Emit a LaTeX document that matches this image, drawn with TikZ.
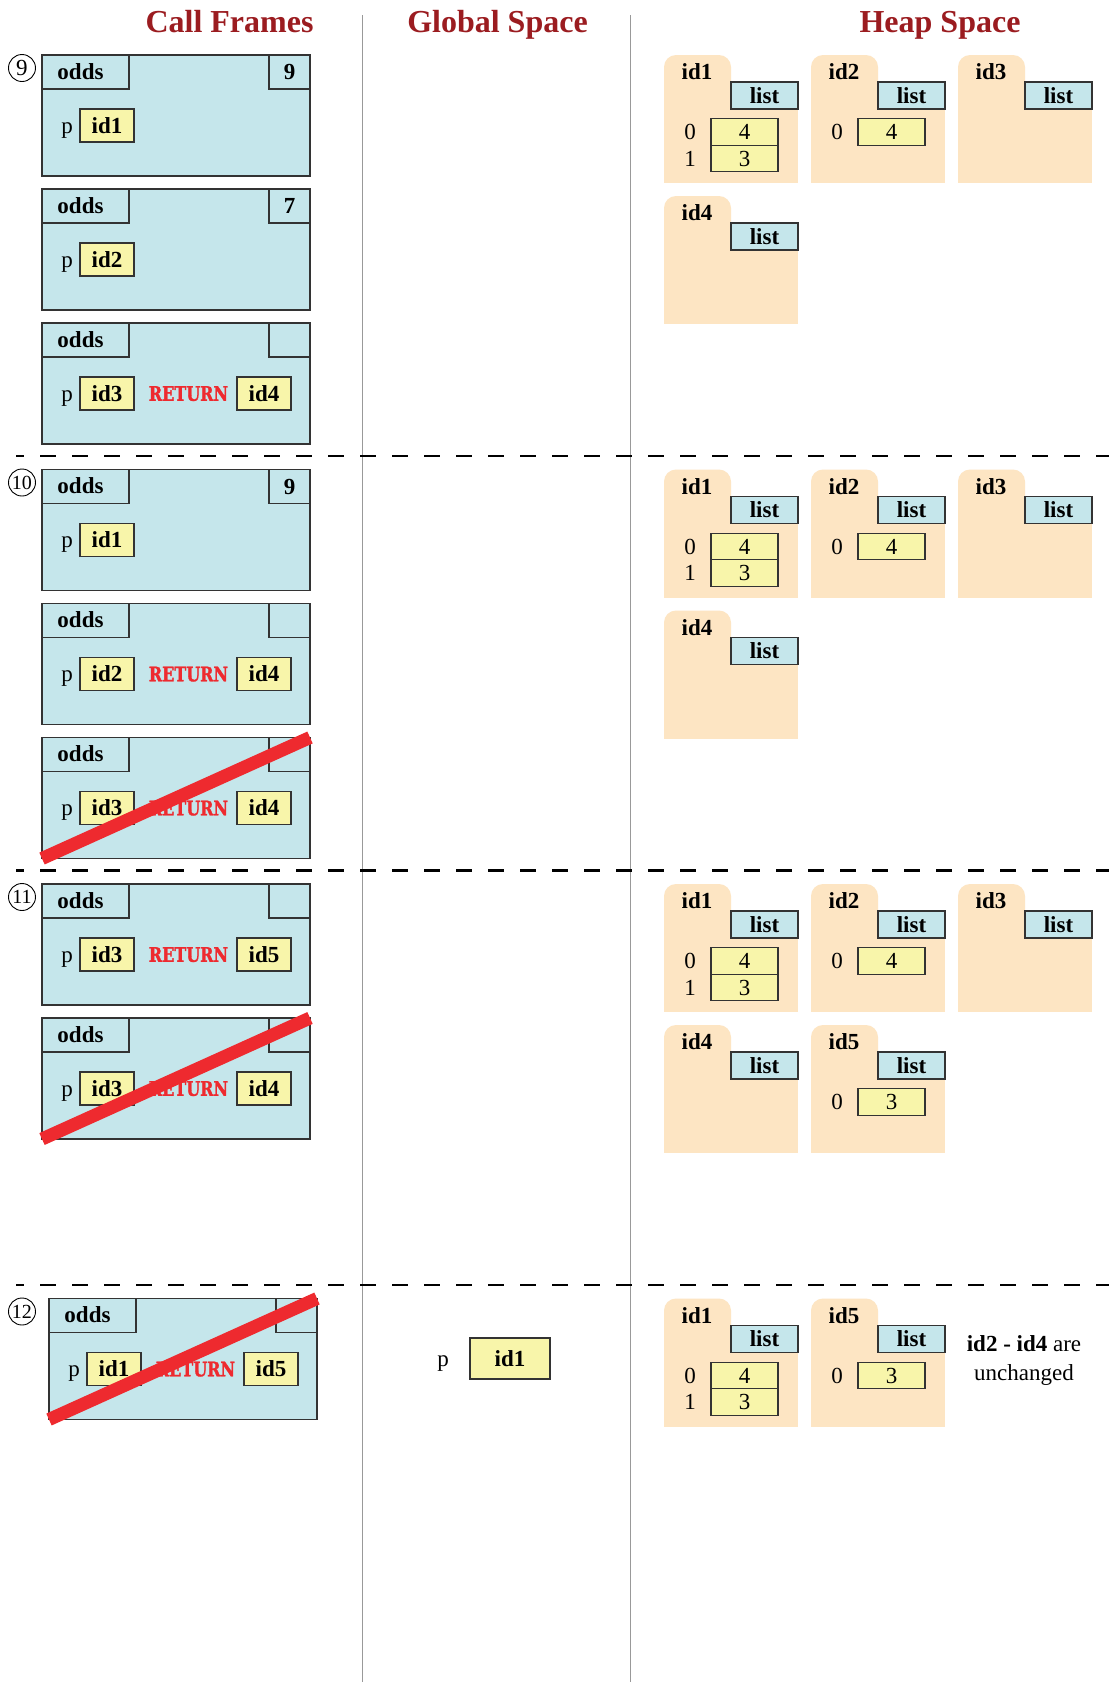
\documentclass[tikz,border=0pt]{standalone}
\usepackage{fontspec}
\setmainfont{Liberation Serif}
\newfontfamily\retfont{DejaVu Serif}[BoldFont={DejaVu Serif Bold}, BoldFeatures={FakeStretch=0.8, FakeBold=1.5}, FakeStretch=0.8]
\usetikzlibrary{calc}
\definecolor{frblue}{HTML}{C5E6EB}
\definecolor{heapc}{HTML}{FDE5C3}
\definecolor{yell}{HTML}{F8F5AA}
\definecolor{titlered}{HTML}{9B1C20}
\definecolor{retred}{HTML}{EE2A2F}
\definecolor{frline}{HTML}{333333}
\definecolor{sepgray}{HTML}{999999}
\newcommand\fsz[1]{\fontsize{#1pt}{#1pt}\selectfont}
\tikzset{
 lbl/.style={inner sep=0pt, font={\fsz{23}}, text height=15.4pt, text depth=0pt},
 blbl/.style={lbl, font={\fsz{23}\bfseries}},
 ttl/.style={inner sep=0pt, font={\fsz{32}\bfseries}, text=titlered, text height=21.4pt, text depth=0pt},
 frbox/.style={draw=frline, fill=frblue, line width=1.3pt, minimum width=268pt, minimum height=121pt, anchor=north west, inner sep=0pt, outer sep=0pt},
 frtab/.style={draw=frline, line width=1.3pt, minimum width=87pt, minimum height=34pt, anchor=north west, inner sep=0pt, outer sep=0pt},
 frnum/.style={blbl, draw=frline, line width=1.3pt, minimum width=41pt, minimum height=34pt, anchor=north east, outer sep=0pt},
 valbox/.style={blbl, draw=frline, fill=yell, line width=1.1pt, minimum width=54pt, minimum height=33pt},
 gvalbox/.style={valbox, minimum width=80pt, minimum height=41pt},
 rettext/.style={inner sep=0pt, font={\retfont\fsz{20}\bfseries}, text=retred, text height=14.6pt, text depth=0pt},
 slash/.style={draw=retred, line width=13pt, line cap=butt},
 heaptab/.style={fill=heapc, rounded corners=12pt, minimum width=67pt, minimum height=60pt, anchor=north west, inner sep=0pt, outer sep=0pt},
 heapbody/.style={fill=heapc, minimum width=134pt, minimum height=101pt, anchor=north west, inner sep=0pt, outer sep=0pt},
 listbox/.style={blbl, draw=frline, fill=frblue, line width=1.1pt, minimum width=67pt, minimum height=27pt, anchor=north east, outer sep=0pt},
 cellbox/.style={lbl, draw=frline, fill=yell, line width=1.1pt, minimum width=67pt, minimum height=26.5pt},
 circ/.style={draw, circle, line width=0.9pt, minimum size=27pt, inner sep=0pt, font={\fsz{23}}, text height=15pt, text depth=0pt},
 circb/.style={circ, font={\fsz{20}}, text height=13.4pt},
 sepline/.style={draw=sepgray, line width=1.4pt},
 dashline/.style={draw=black, line width=2.6pt, dash pattern=on 16pt off 16pt, dash phase=8pt},
}
% call frame: name, x, y(top), number, variable value
\newcommand\cframe[5]{%
 \node[frbox] (#1) at (#2,#3) {};
 \node[frtab] (#1tab) at (#2,#3) {};
 \node[blbl] (#1name) at (#2+38.5,#3+16.5) {odds};
 \node[frnum] (#1num) at (#2+268,#3) {#4};
 \node[lbl] (#1p) at (#2+25,#3+70.5) {p};
 \node[valbox] (#1var) at (#2+65,#3+70.5) {#5};
}
% return part: name, x, y(top), value
\newcommand\cret[4]{%
 \node[rettext] (#1ret) at (#2+146.5,#3+70.5) {RETURN};
 \node[valbox] (#1val) at (#2+222,#3+70.5) {#4};
}
\newcommand\strikeframe[1]{\draw[slash] (#1.south west) -- (#1.north east);}
% heap object: name, x, y(top), id
\newcommand\heapobj[4]{%
 \node[heaptab] (#1) at (#2,#3) {};
 \node[heapbody] (#1body) at (#2,#3+27) {};
 \node[blbl] (#1id) at (#2+33,#3+17) {#4};
 \node[listbox] (#1list) at (#2+134,#3+27) {list};
}
% heap cell: name, x of object, y center, index, value
\newcommand\hcell[5]{%
 \node[lbl] (#1i) at (#2+26,#3) {#4};
 \node[cellbox] (#1) at (#2+80.5,#3) {#5};
}
% first heap row: prefix, y(top)
\newcommand\heaprowA[2]{%
 \heapobj{#1a}{664}{#2}{id1}
 \hcell{#1a0}{664}{#2+77}{0}{4}
 \hcell{#1a1}{664}{#2+103.5}{1}{3}
 \heapobj{#1b}{811}{#2}{id2}
 \hcell{#1b0}{811}{#2+77}{0}{4}
 \heapobj{#1c}{958}{#2}{id3}
}
\begin{document}
\begin{tikzpicture}[x=1pt,y=-1pt]
\useasboundingbox (0,0) rectangle (1109,1682);
\fill[white] (0,0) rectangle (1109,1682);
% titles
\node[ttl] (tcall) at (229.5,21.5) {Call Frames};
\node[ttl] (tglob) at (497.5,21.5) {Global Space};
\node[ttl] (theap) at (940,21.5) {Heap Space};
% separators
\draw[sepline] (362.5,15) -- (362.5,1682);
\draw[sepline] (630.6,15) -- (630.6,1682);
\foreach \yy in {456,870.5,1285} \draw[dashline] (16,\yy) -- (1109,\yy);

% ---------- step 9 ----------
\node[circ] (c9) at (22,68) {9};
\cframe{fa}{42}{55}{9}{id1}
\cframe{fb}{42}{189}{7}{id2}
\cframe{fc}{42}{323}{}{id3}
\cret{fc}{42}{323}{id4}
\heaprowA{hA}{55}
\heapobj{hAd}{664}{196}{id4}

% ---------- step 10 ----------
\node[circb] (c10) at (22,482.5) {10};
\cframe{ga}{42}{469.5}{9}{id1}
\cframe{gb}{42}{603.5}{}{id2}
\cret{gb}{42}{603.5}{id4}
\cframe{gc}{42}{737.5}{}{id3}
\cret{gc}{42}{737.5}{id4}
\strikeframe{gc}
\heaprowA{hB}{469.5}
\heapobj{hBd}{664}{610.5}{id4}

% ---------- step 11 ----------
\node[circb] (c11) at (22,897) {11};
\cframe{ka}{42}{884}{}{id3}
\cret{ka}{42}{884}{id5}
\cframe{kb}{42}{1018}{}{id3}
\cret{kb}{42}{1018}{id4}
\strikeframe{kb}
\heaprowA{hC}{884}
\heapobj{hCd}{664}{1025}{id4}
\heapobj{hCe}{811}{1025}{id5}
\hcell{hCe0}{811}{1102}{0}{3}

% ---------- step 12 ----------
\node[circb] (c12) at (22,1311.5) {12};
\cframe{ma}{49}{1298.5}{}{id1}
\cret{ma}{49}{1298.5}{id5}
\strikeframe{ma}
\node[lbl] (gp) at (443,1358.5) {p};
\node[gvalbox] (gval) at (510,1358.5) {id1};
\heapobj{hDa}{664}{1298.5}{id1}
\hcell{hDa0}{664}{1375.5}{0}{4}
\hcell{hDa1}{664}{1402}{1}{3}
\heapobj{hDe}{811}{1298.5}{id5}
\hcell{hDe0}{811}{1375.5}{0}{3}
\node[lbl] (note1) at (1024,1344) {\textbf{id2 - id4} are};
\node[lbl] (note2) at (1024,1373) {unchanged};
\end{tikzpicture}
\end{document}
